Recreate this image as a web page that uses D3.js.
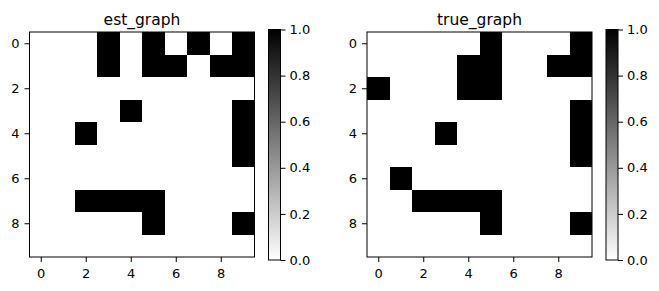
<!DOCTYPE html>
<html>
<head>
<meta charset="utf-8">
<script src="https://cdn.jsdelivr.net/npm/d3@7"></script>
<style>
  body { margin: 0; background: #fff; }
  svg text { font-family: "DejaVu Sans", sans-serif; fill: #000; }
</style>
</head>
<body>
<svg id="chart" width="659" height="291"></svg>
<script>
// nonzero columns for each row (rows 0..9)
const estRows = [
  [3, 5, 7, 9],
  [3, 5, 6, 8, 9],
  [],
  [4, 9],
  [2, 9],
  [9],
  [],
  [2, 3, 4, 5],
  [5, 9],
  []
];
const trueRows = [
  [5, 9],
  [4, 5, 8, 9],
  [0, 4, 5],
  [9],
  [3, 9],
  [9],
  [1],
  [2, 3, 4, 5],
  [5, 9],
  []
];
const titles = ['est_graph', 'true_graph'];
const axisTicks = [0, 2, 4, 6, 8];
const cbarTicks = [0, 0.2, 0.4, 0.6, 0.8, 1.0];

const n = 10;
const svg = d3.select('#chart');
const color = d3.scaleLinear().domain([0, 1]).range(['#ffffff', '#000000']);

// gradient for the colorbars
const defs = svg.append('defs');
const grad = defs.append('linearGradient')
  .attr('id', 'cbar').attr('x1', 0).attr('y1', 1).attr('x2', 0).attr('y2', 0);
d3.range(0, 1.01, 0.1).forEach(t => {
  grad.append('stop').attr('offset', t).attr('stop-color', color(t));
});

function toMatrix(rows) {
  const cells = [];
  rows.forEach((cols, r) => {
    for (let c = 0; c < n; c++) {
      cells.push({ r: r, c: c, v: cols.includes(c) ? 1 : 0 });
    }
  });
  return cells;
}

const panels = [
  { left: 29.5, rows: estRows, cbarLeft: 268.5 },
  { left: 367, rows: trueRows, cbarLeft: 606 }
];
const axTop = 32, size = 225;

panels.forEach((p, i) => {
  const x = d3.scaleLinear().domain([-0.5, n - 0.5]).range([p.left, p.left + size]);
  const y = d3.scaleLinear().domain([-0.5, n - 0.5]).range([axTop, axTop + size]);
  const g = svg.append('g');

  g.selectAll('rect.cell')
    .data(toMatrix(p.rows))
    .join('rect')
    .attr('class', 'cell')
    .attr('x', d => x(d.c - 0.5))
    .attr('y', d => y(d.r - 0.5))
    .attr('width', x(1) - x(0) + 0.3)
    .attr('height', y(1) - y(0) + 0.3)
    .attr('fill', d => color(d.v))
    .attr('shape-rendering', 'crispEdges');

  g.append('rect')
    .attr('x', p.left).attr('y', axTop)
    .attr('width', size).attr('height', size)
    .attr('fill', 'none').attr('stroke', '#000').attr('stroke-width', 1);

  const xAxis = d3.axisBottom(x).tickValues(axisTicks).tickSize(5).tickPadding(7).tickSizeOuter(0);
  const yAxis = d3.axisLeft(y).tickValues(axisTicks).tickSize(5).tickPadding(5).tickSizeOuter(0);

  const gx = g.append('g').attr('transform', 'translate(0,' + (axTop + size) + ')').call(xAxis);
  const gy = g.append('g').attr('transform', 'translate(' + p.left + ',0)').call(yAxis);
  [gx, gy].forEach(a => {
    a.select('.domain').remove();
    a.selectAll('line').attr('stroke', '#000');
    a.selectAll('text').style('font-size', '13px').attr('fill', '#000');
  });

  g.append('text')
    .attr('x', p.left + size / 2)
    .attr('y', 25)
    .attr('text-anchor', 'middle')
    .style('font-size', '15.5px')
    .text(titles[i]);

  // colorbar
  const cTop = 29.5, cBot = 260, cW = 12;
  const cy = d3.scaleLinear().domain([0, 1]).range([cBot, cTop]);
  g.append('rect')
    .attr('x', p.cbarLeft).attr('y', cTop)
    .attr('width', cW).attr('height', cBot - cTop)
    .attr('fill', 'url(#cbar)')
    .attr('stroke', '#000').attr('stroke-width', 1);
  const cAxis = d3.axisRight(cy).tickValues(cbarTicks).tickFormat(d3.format('.1f'))
    .tickSize(5).tickPadding(4).tickSizeOuter(0);
  const gc = g.append('g').attr('transform', 'translate(' + (p.cbarLeft + cW) + ',0)').call(cAxis);
  gc.select('.domain').remove();
  gc.selectAll('line').attr('stroke', '#000');
  gc.selectAll('text').style('font-size', '13px').attr('fill', '#000');
});
</script>
</body>
</html>
